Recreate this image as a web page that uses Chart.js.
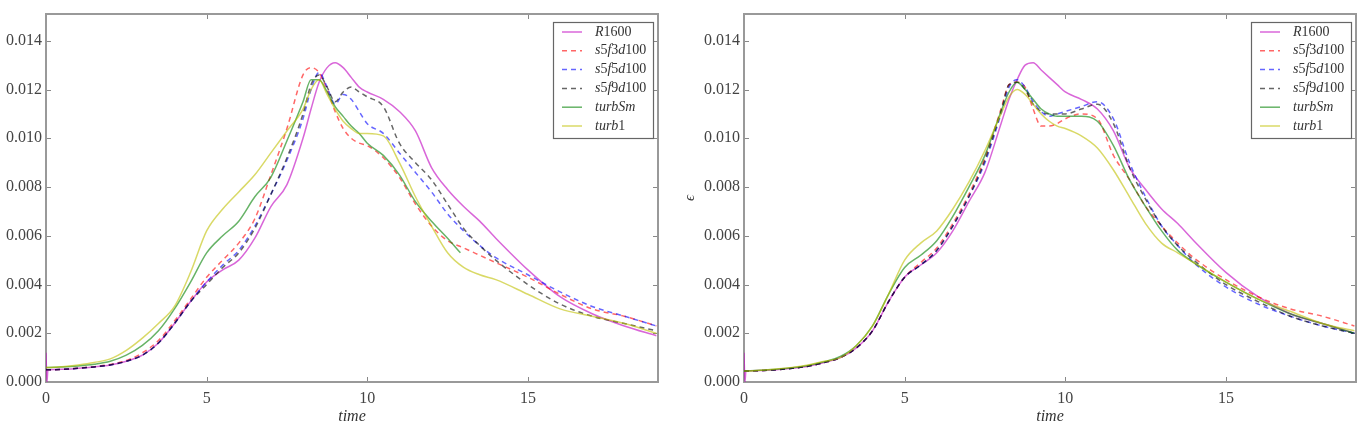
<!DOCTYPE html>
<html><head><meta charset="utf-8">
<script src="https://cdn.jsdelivr.net/npm/chart.js@4.4.1/dist/chart.umd.min.js"></script>
<style>
html,body{margin:0;padding:0;background:#fff;width:1366px;height:425px;overflow:hidden}
.box{position:absolute;top:0;height:425px;width:683px}
</style></head><body>
<div class="box" style="left:0"><canvas id="c1"></canvas></div>
<div class="box" style="left:683px"><canvas id="c2"></canvas></div>
<script>
// ---- data ----
const TIME = [0, 0.03, 0.06, 0.5, 1, 1.5, 2, 2.5, 3, 3.5, 4, 4.5, 5, 5.5, 6, 6.5, 7, 7.5, 8, 8.25, 8.5, 8.75, 9, 9.25, 9.5, 9.75, 10, 10.5, 11, 11.5, 12, 12.5, 13, 13.5, 14, 15, 16, 17, 18, 19];
const TIME_TURBSM_LEFT = [0, 0.03, 0.06, 0.5, 1, 1.5, 2, 2.5, 3, 3.5, 4, 4.5, 5, 5.5, 6, 6.5, 7, 7.5, 8, 8.25, 8.5, 8.75, 9, 9.25, 9.5, 9.75, 10, 10.5, 11, 11.5, 12, 12.5, 12.9];
const X_TICKS = [0, 5, 10, 15];
const Y_TICKS = [0, 0.002, 0.004, 0.006, 0.008, 0.010, 0.012, 0.014];
const SERIES = ['R1600', 's5f3d100', 's5f5d100', 's5f9d100', 'turbSm', 'turb1'];

// left panel
const L_R1600 = [0.0012,0.0000,0.0005,0.00052,0.00056,0.00062,0.0007,0.00085,0.0011,0.0016,0.0024,0.0033,0.0041,0.0046,0.0050,0.0059,0.0072,0.0081,0.0100,0.0112,0.0123,0.0129,0.0131,0.0129,0.0125,0.0121,0.0119,0.0116,0.0111,0.0103,0.0088,0.0079,0.0072,0.0066,0.0059,0.0046,0.0035,0.0028,0.0023,0.0019];
const L_S5F3 = [0.0005,0.0005,0.0005,0.00052,0.00057,0.00063,0.00072,0.00088,0.0012,0.0017,0.0025,0.0034,0.0043,0.0050,0.0057,0.0067,0.0085,0.0104,0.0126,0.0129,0.0127,0.0120,0.0111,0.0104,0.0100,0.0098,0.0097,0.0092,0.0084,0.0073,0.0064,0.0058,0.0055,0.0052,0.0049,0.0043,0.0036,0.0030,0.0027,0.0023];
const L_S5F5 = [0.0005,0.0005,0.0005,0.00052,0.00056,0.00062,0.0007,0.00085,0.0011,0.0016,0.0024,0.0033,0.0041,0.0048,0.0054,0.0064,0.0077,0.0091,0.0108,0.0120,0.0127,0.0121,0.0114,0.0118,0.0116,0.0111,0.0106,0.0102,0.0094,0.0086,0.0078,0.0069,0.0062,0.0056,0.0051,0.0044,0.0037,0.0031,0.0027,0.0023];
const L_S5F9 = [0.0005,0.0005,0.0005,0.00052,0.00056,0.00062,0.0007,0.00085,0.0011,0.0016,0.0024,0.0033,0.0040,0.0047,0.0053,0.0063,0.0077,0.0092,0.0110,0.0122,0.0126,0.0121,0.0115,0.0119,0.0121,0.0119,0.0117,0.0113,0.0098,0.0090,0.0083,0.0073,0.0063,0.0056,0.0050,0.0040,0.0032,0.0027,0.0024,0.0021];
const L_TURBSM = [0.0006,0.0006,0.0006,0.00062,0.00066,0.00073,0.00085,0.0011,0.0015,0.0021,0.0030,0.0041,0.0053,0.0060,0.0066,0.0076,0.0084,0.0099,0.0115,0.0124,0.0124,0.0119,0.0113,0.0109,0.0105,0.0102,0.0098,0.0093,0.0085,0.0074,0.0066,0.0059,0.0053];
const L_TURB1 = [0.0006,0.0006,0.0006,0.00063,0.0007,0.0008,0.00095,0.0013,0.0018,0.0024,0.0031,0.0045,0.0062,0.0071,0.0078,0.0085,0.0094,0.0103,0.0112,0.0120,0.0124,0.0118,0.0112,0.0107,0.0104,0.0102,0.0102,0.0101,0.0090,0.0076,0.0064,0.0053,0.0047,0.0044,0.0042,0.0036,0.0030,0.0027,0.0024,0.0020];

// right panel
const R_R1600 = [0.0012,0.0000,0.00045,0.00047,0.0005,0.00056,0.00065,0.0008,0.0010,0.0014,0.0021,0.0033,0.0043,0.0048,0.0053,0.0062,0.0074,0.0086,0.0106,0.0116,0.0124,0.0130,0.0131,0.0128,0.0125,0.0122,0.0119,0.0116,0.0112,0.0103,0.0088,0.0079,0.0071,0.0065,0.0058,0.0045,0.0035,0.0028,0.0024,0.0020];
const R_S5F3 = [0.00045,0.00045,0.00045,0.00047,0.0005,0.00056,0.00065,0.0008,0.0010,0.0014,0.0021,0.0033,0.0043,0.0049,0.0055,0.0065,0.0077,0.0092,0.0112,0.0122,0.0123,0.0121,0.0112,0.0105,0.0105,0.0106,0.0108,0.0110,0.0108,0.0093,0.0083,0.0072,0.0064,0.0057,0.0051,0.0042,0.0035,0.0030,0.0027,0.0023];
const R_S5F5 = [0.00045,0.00045,0.00045,0.00047,0.0005,0.00056,0.00065,0.0008,0.0010,0.0014,0.0021,0.0033,0.0043,0.0048,0.0054,0.0064,0.0076,0.0090,0.0110,0.0121,0.0124,0.0121,0.0115,0.0111,0.0109,0.0110,0.0111,0.0113,0.0115,0.0108,0.0090,0.0076,0.0064,0.0056,0.0049,0.0039,0.0032,0.0027,0.0023,0.0020];
const R_S5F9 = [0.00045,0.00045,0.00045,0.00047,0.0005,0.00056,0.00065,0.0008,0.0010,0.0014,0.0021,0.0033,0.0043,0.0048,0.0054,0.0064,0.0076,0.0091,0.0111,0.0122,0.0123,0.0120,0.0114,0.0111,0.0110,0.0110,0.0110,0.0112,0.0114,0.0106,0.0088,0.0075,0.0064,0.0056,0.0050,0.0040,0.0033,0.0027,0.0023,0.0020];
const R_TURBSM = [0.00045,0.00045,0.00045,0.00048,0.00052,0.00058,0.00068,0.00083,0.00105,0.0015,0.0023,0.0036,0.0047,0.0052,0.0058,0.0068,0.0080,0.0093,0.0111,0.0119,0.0123,0.0120,0.0116,0.0112,0.0110,0.0109,0.0109,0.0109,0.0107,0.0097,0.0083,0.0072,0.0062,0.0054,0.0049,0.0041,0.0034,0.0028,0.0024,0.0020];
const R_TURB1 = [0.00045,0.00045,0.00045,0.00048,0.00053,0.0006,0.0007,0.00085,0.0010,0.0015,0.0023,0.0036,0.0050,0.0057,0.0062,0.0071,0.0082,0.0095,0.0110,0.0117,0.0120,0.0118,0.0114,0.0110,0.0107,0.0105,0.0104,0.0101,0.0096,0.0087,0.0076,0.0065,0.0057,0.0053,0.0049,0.0041,0.0034,0.0029,0.0024,0.0021];

// ---- styles ----
const COLORS = ['rgba(191,0,191,0.6)','rgba(255,0,0,0.6)','rgba(0,0,255,0.6)','rgba(0,0,0,0.6)','rgba(0,128,0,0.6)','rgba(191,191,0,0.6)'];
const DASHED = [false, true, true, true, false, false];
const SERIF = '"Liberation Serif", "DejaVu Serif", serif';

function makeDatasets(list) {
  return list.map(([times, vals], i) => ({
    label: SERIES[i],
    data: times.map((t, k) => ({x: t, y: vals[k]})),
    borderColor: COLORS[i],
    backgroundColor: COLORS[i],
    borderWidth: 1.5,
    borderDash: DASHED[i] ? [5, 4] : [],
    pointRadius: 0,
    fill: false,
    cubicInterpolationMode: 'monotone',
    order: SERIES.length - i
  }));
}

function drawMathLabel(ctx, text, x, y) {
  const parts = text.match(/[A-Za-z]+|[0-9]+/g);
  let cx = x;
  parts.forEach(p => {
    ctx.font = (/[0-9]/.test(p[0]) ? '' : 'italic ') + '14px ' + SERIF;
    ctx.fillText(p, cx, y);
    cx += ctx.measureText(p).width;
  });
}

const framePlugin = {
  id: 'frame',
  beforeDatasetsDraw(chart) {
    const {ctx, chartArea: a, scales: {x, y}} = chart;
    ctx.save();
    ctx.strokeStyle = '#888'; ctx.lineWidth = 1;
    ctx.beginPath();
    X_TICKS.forEach(v => {
      const px = Math.round(x.getPixelForValue(v)) + 0.5;
      ctx.moveTo(px, a.bottom); ctx.lineTo(px, a.bottom - 5);
      ctx.moveTo(px, a.top); ctx.lineTo(px, a.top + 5);
    });
    Y_TICKS.forEach(v => {
      const py = Math.round(y.getPixelForValue(v)) + 0.5;
      ctx.moveTo(a.left, py); ctx.lineTo(a.left + 5, py);
      ctx.moveTo(a.right, py); ctx.lineTo(a.right - 5, py);
    });
    ctx.stroke();
    ctx.strokeStyle = '#999'; ctx.lineWidth = 2;
    ctx.strokeRect(a.left, a.top, a.right - a.left, a.bottom - a.top);
    ctx.restore();
  },
  afterDraw(chart) {
    const {ctx, chartArea: a} = chart;
    ctx.save();
    const w = 100, h = 116;
    const bx = a.right - 5 - w, by = a.top + 8;
    ctx.fillStyle = '#fff';
    ctx.fillRect(bx, by, w, h);
    ctx.strokeStyle = '#666'; ctx.lineWidth = 1.2;
    ctx.strokeRect(bx + 0.5, by + 0.5, w, h);
    chart.data.datasets.forEach((ds, i) => {
      const ly = by + 10 + i * 18.8;
      ctx.strokeStyle = ds.borderColor; ctx.lineWidth = 1.5;
      ctx.setLineDash(ds.borderDash);
      ctx.beginPath(); ctx.moveTo(bx + 9, ly); ctx.lineTo(bx + 29, ly); ctx.stroke();
      ctx.setLineDash([]);
      ctx.fillStyle = '#333'; ctx.textBaseline = 'middle'; ctx.textAlign = 'left';
      drawMathLabel(ctx, ds.label, bx + 42, ly);
    });
    ctx.restore();
  }
};

function makeChart(id, datasets, yAxisWidth, rightPad, yTitle) {
  return new Chart(document.getElementById(id), {
    type: 'line',
    data: {datasets},
    plugins: [framePlugin],
    options: {
      responsive: true, maintainAspectRatio: false, animation: false,
      layout: {padding: {top: 14, right: rightPad, left: 0, bottom: 0}},
      plugins: {legend: {display: false}, tooltip: {enabled: false}},
      scales: {
        x: {
          type: 'linear', min: 0, max: 19.05,
          afterBuildTicks: s => { s.ticks = X_TICKS.map(v => ({value: v})); },
          afterFit: s => { s.height = 43; },
          grid: {display: true, drawOnChartArea: false, drawTicks: false},
          border: {display: false},
          ticks: {color: '#444', font: {family: SERIF, size: 16}, padding: 7, maxRotation: 0},
          title: {display: true, text: 'time', color: '#333', font: {family: SERIF, size: 16, style: 'italic', lineHeight: 1}, padding: {top: 0, bottom: 0}}
        },
        y: {
          type: 'linear', min: 0, max: 0.0151,
          afterBuildTicks: s => { s.ticks = Y_TICKS.map(v => ({value: v})); },
          afterFit: s => { s.width = yAxisWidth; },
          grid: {display: true, drawOnChartArea: false, drawTicks: false},
          border: {display: false},
          ticks: {color: '#444', font: {family: SERIF, size: 16}, padding: 4, callback: v => v.toFixed(3)},
          title: {display: !!yTitle, text: yTitle || '', color: '#333', font: {family: SERIF, size: 15, style: 'italic', lineHeight: 1}, padding: {top: 0, bottom: 0}}
        }
      }
    }
  });
}

makeChart('c1', makeDatasets([[TIME, L_R1600], [TIME, L_S5F3], [TIME, L_S5F5], [TIME, L_S5F9], [TIME_TURBSM_LEFT, L_TURBSM], [TIME, L_TURB1]]), 46, 25, null);
makeChart('c2', makeDatasets([[TIME, R_R1600], [TIME, R_S5F3], [TIME, R_S5F5], [TIME, R_S5F9], [TIME, R_TURBSM], [TIME, R_TURB1]]), 61, 10, 'ϵ');
</script>
</body></html>
